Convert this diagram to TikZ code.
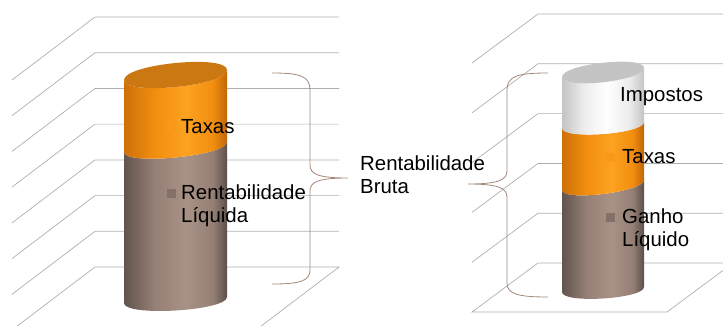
\documentclass[tikz,border=0pt]{standalone}
\usepackage{fontspec}
\setmainfont{Liberation Sans}
\usepackage{tikz}
\usetikzlibrary{positioning}

\definecolor{gridgray}{RGB}{175,175,175}
\definecolor{bracebrown}{RGB}{165,135,120}
\definecolor{brownA}{RGB}{98,84,78}
\definecolor{brownB}{RGB}{150,128,118}
\definecolor{brownC}{RGB}{168,146,134}
\definecolor{brownD}{RGB}{92,80,74}
\definecolor{orangeA}{RGB}{205,112,8}
\definecolor{orangeB}{RGB}{242,142,16}
\definecolor{orangeC}{RGB}{253,162,32}
\definecolor{orangeD}{RGB}{192,102,6}
\definecolor{orangeTop}{RGB}{204,120,18}
\definecolor{whiteA}{RGB}{196,196,196}
\definecolor{whiteB}{RGB}{236,236,236}
\definecolor{grayTop}{RGB}{196,196,196}
\definecolor{markOrange}{RGB}{250,152,24}
\definecolor{markBrown}{RGB}{132,112,104}

\pgfdeclarehorizontalshading{brownsh}{100bp}{color(0bp)=(brownA); color(25bp)=(brownA);
  color(40bp)=(brownB); color(55bp)=(brownC); color(68bp)=(brownB); color(75bp)=(brownD); color(100bp)=(brownD)}
\pgfdeclarehorizontalshading{orangesh}{100bp}{color(0bp)=(orangeA); color(25bp)=(orangeA);
  color(40bp)=(orangeB); color(55bp)=(orangeC); color(68bp)=(orangeB); color(75bp)=(orangeD); color(100bp)=(orangeD)}
\pgfdeclarehorizontalshading{whitesh}{100bp}{color(0bp)=(whiteA); color(25bp)=(whiteA);
  color(38bp)=(whiteB); color(52bp)=(white); color(66bp)=(whiteB); color(75bp)=(whiteA); color(100bp)=(whiteA)}

\begin{document}
\begin{tikzpicture}[
    x=1pt, y=-1pt,
    grid/.style={draw=gridgray, line width=0.7pt},
    brace/.style={draw=bracebrown, line width=0.8pt},
    label/.style={anchor=base west, inner sep=0pt, align=left, font=\fontsize{20.4}{23.5}\selectfont},
    marker/.style={minimum size=9pt, inner sep=0pt, anchor=center}
]
    \useasboundingbox (0,0) rectangle (723,325);
    \clip (0,0) rectangle (723,325);

    % left chart walls
    \foreach \y in {17,52.7,88.4,124.1,159.9,195.6,231.3} {
        \draw[grid] (12,\y+63) -- (95,\y) -- (339,\y);
    }
    \draw[grid] (12,330) -- (95,267) -- (339,267) -- (256,330);

    % right chart walls
    \foreach \y in {14,63.8,113.6,163.4,213.2} {
        \draw[grid] (472,\y+49) -- (538,\y) -- (733,\y);
    }
    \draw[grid] (538,263) -- (733,263) -- (667,312) -- (472,312) -- cycle;

    % left cylinder
    \shade[shading=brownsh] (124,152) -- (124,303) .. controls (124,317) and (227,311) .. (227,297)
        -- (227,142) .. controls (227,156) and (124,166) .. (124,152) -- cycle;
    \shade[shading=orangesh] (124,80) -- (124,152) .. controls (124,166) and (227,156) .. (227,142)
        -- (227,70) .. controls (227,86) and (124,96) .. (124,80) -- cycle;
    \fill[orangeTop] (124,80) .. controls (124,96) and (227,86) .. (227,70)
        .. controls (227,54) and (124,64) .. (124,80) -- cycle;

    % right cylinder
    \shade[shading=brownsh] (562,190) -- (562,292) .. controls (562,304) and (644,299) .. (644,287)
        -- (644,180) .. controls (644,192) and (562,202) .. (562,190) -- cycle;
    \shade[shading=orangesh] (562,128) -- (562,190) .. controls (562,202) and (644,192) .. (644,180)
        -- (644,122) .. controls (644,134) and (562,140) .. (562,128) -- cycle;
    \shade[shading=whitesh] (562,77) -- (562,128) .. controls (562,140) and (644,134) .. (644,122)
        -- (644,68) .. controls (644,81) and (562,90) .. (562,77) -- cycle;
    \fill[grayTop] (562,77) .. controls (562,90) and (644,81) .. (644,68)
        .. controls (644,55) and (562,64) .. (562,77) -- cycle;

    % braces
    \draw[brace] (272,73) .. controls (300,73) and (310,76) .. (310,90) -- (310,165)
        .. controls (310,174) and (318,178) .. (348,178)
        .. controls (318,178) and (310,182) .. (310,191) -- (310,270)
        .. controls (310,281) and (300,284) .. (272,284);
    \draw[brace] (548,73) .. controls (518,73) and (507,76) .. (507,90) -- (507,171)
        .. controls (507,180) and (498,184) .. (468,184)
        .. controls (498,184) and (507,188) .. (507,197) -- (507,283)
        .. controls (507,294) and (518,297) .. (548,297);

    % markers
    \node[marker, fill=markOrange] (mtaxasL) at (171,127) {};
    \node[marker, fill=markBrown] (mrentL) at (171,193) {};
    \node[marker, fill=markOrange] (mtaxasR) at (610,157) {};
    \node[marker, fill=markBrown] (mganhoR) at (610,217) {};

    % labels (base = last line)
    \node[label] (taxasL) at (181,133) {Taxas};
    \node[label] (rentL) at (181,222.5) {Rentabilidade\\Líquida};
    \node[label] (impR) at (620,101) {Impostos};
    \node[label] (taxasR) at (622,163) {Taxas};
    \node[label] (ganhoR) at (622,246.5) {Ganho\\Líquido};
    \node[label] (bruta) at (360,193.5) {Rentabilidade\\Bruta};
\end{tikzpicture}
\end{document}
